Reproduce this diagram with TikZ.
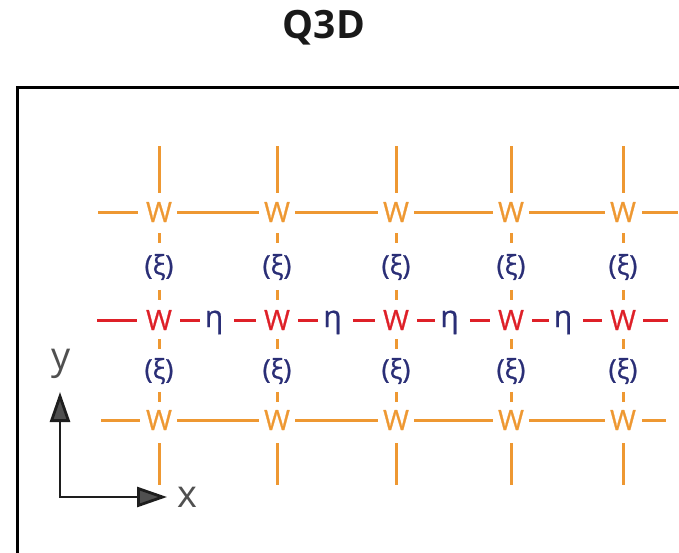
\documentclass[tikz,border=0pt]{standalone}
\usepackage{fontspec}
\setmainfont{Open Sans}
\newfontfamily\latticefont[FakeBold=0.8]{Open Sans}
\usetikzlibrary{arrows.meta,calc}
\definecolor{wOrange}{RGB}{238,152,50}
\definecolor{wRed}{RGB}{222,32,40}
\definecolor{wNavy}{RGB}{42,46,118}
\definecolor{axGray}{RGB}{80,80,80}
\definecolor{axLine}{RGB}{30,30,30}
\begin{document}
\begin{tikzpicture}[x=1pt,y=-1pt,
  wnode/.style={inner sep=0pt,font=\latticefont\fontsize{28}{28}\selectfont},
  wo/.style={wnode,text=wOrange},
  wr/.style={wnode,text=wRed},
  xi/.style={inner sep=0pt,text=wNavy,font=\latticefont\fontsize{27}{27}\selectfont},
  eta/.style={inner sep=0pt,text=wNavy,font=\latticefont\fontsize{30}{30}\selectfont},
  oline/.style={draw=wOrange,line width=3pt},
  rline/.style={draw=wRed,line width=3pt},
  axis/.style={draw=axLine,line width=2.8pt,
    {Triangle[length=30pt,width=20pt,fill=axGray]}-{Triangle[length=30pt,width=20pt,fill=axGray]}},
  axlab/.style={inner sep=0pt,text=axGray,font=\fontsize{38}{38}\selectfont},
  frame/.style={draw=black,line width=3pt}]
\useasboundingbox (0,0) rectangle (679,552);

% title
\node[font=\fontsize{39}{39}\selectfont\bfseries,text=black!90] (title) at (324,28) {Q3D};

% frame, running off the right and bottom edges
\begin{scope}
  \clip (0,0) rectangle (679,552);
  \draw[frame] (17,87) rectangle (720,580);
\end{scope}

% lattice sites
\foreach \c/\x in {1/159,2/277,3/396,4/511,5/623}{
  \node[wo] (t\c) at (\x,212) {W};
  \node[wr] (m\c) at (\x,320) {W};
  \node[wo] (b\c) at (\x,420) {W};
  \node[xi] (u\c) at (\x,267) {(ξ)};
  \node[xi] (l\c) at (\x,371) {(ξ)};
  \coordinate (tt\c) at (\x,146);
  \coordinate (bb\c) at (\x,485);
  \draw[oline,shorten >=9pt] (tt\c) -- (t\c);
  \draw[oline,shorten <=13pt] (b\c) -- (bb\c);
  % short vertical links through the (xi) labels
  \draw[oline] ($(t\c.south)!0.5!(u\c.north)+(0,-5)$) -- ($(t\c.south)!0.5!(u\c.north)+(0,5)$);
  \draw[oline] ($(u\c.south)!0.5!(m\c.north)+(0,-5)$) -- ($(u\c.south)!0.5!(m\c.north)+(0,5)$);
  \draw[oline] ($(m\c.south)!0.5!(l\c.north)+(0,-5)$) -- ($(m\c.south)!0.5!(l\c.north)+(0,5)$);
  \draw[oline] ($(l\c.south)!0.5!(b\c.north)+(0,-5)$) -- ($(l\c.south)!0.5!(b\c.north)+(0,5)$);
}

% eta labels on the middle row
\foreach \c/\n in {1/2,2/3,3/4,4/5}{
  \path (m\c) -- (m\n) coordinate[pos=0.5,xshift=-4pt] (em\c);
  \node[eta,anchor=base] (e\c) at ($(em\c)+(0,7)$) {η};
  \draw[oline,shorten <=5pt,shorten >=5pt] (t\c) -- (t\n);
  \draw[oline,shorten <=5pt,shorten >=5pt] (b\c) -- (b\n);
  \draw[rline,shorten <=8pt,shorten >=5pt] (m\c.east) -- (e\c.west |- m\c.east);
  \draw[rline,shorten <=11pt,shorten >=8pt] (e\c.east |- m\c.east) -- (m\n.west);
}

% open ends of the rows
\coordinate (lt) at (98,212);  \coordinate (rt) at (678,212);
\coordinate (lm) at (97,320);  \coordinate (rm) at (668,320);
\coordinate (lb) at (101,420); \coordinate (rb) at (666,420);
\draw[oline,shorten >=8pt] (lt) -- (t1);
\draw[oline,shorten <=6pt] (t5) -- (rt);
\draw[rline,shorten >=9pt] (lm) -- (m1);
\draw[rline,shorten <=7pt] (m5) -- (rm);
\draw[oline,shorten >=6pt] (lb) -- (b1);
\draw[oline,shorten <=6pt] (b5) -- (rb);

% axes
\coordinate (ax0) at (60,497);
\coordinate (axy) at (60,392);
\coordinate (axx) at (167,497);
\draw[axis] (axy) -- (ax0) -- (axx);
\node[axlab] (ylab) at (61,364) {y};
\node[axlab] (xlab) at (187,497) {x};
\end{tikzpicture}
\end{document}
